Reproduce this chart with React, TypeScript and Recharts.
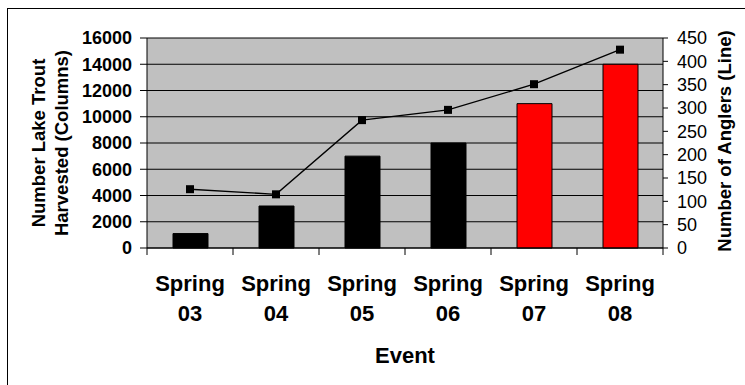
import React from 'react';
import {
  ComposedChart,
  Bar,
  Line,
  XAxis,
  YAxis,
  CartesianGrid,
  Cell,
} from 'recharts';

// Lake trout harvest (bars, left axis) and angler count (line, right axis)
const EVENTS = ['Spring 03', 'Spring 04', 'Spring 05', 'Spring 06', 'Spring 07', 'Spring 08'];
const TROUT_HARVESTED = [1100, 3200, 7000, 8000, 11000, 14000];
const ANGLERS = [126, 115, 274, 296, 351, 425];
const RED_EVENTS = ['Spring 07', 'Spring 08'];

const HARVEST_TICKS = [0, 2000, 4000, 6000, 8000, 10000, 12000, 14000, 16000];
const ANGLER_TICKS = [0, 50, 100, 150, 200, 250, 300, 350, 400, 450];

const FONT = '"Liberation Sans", Arial, sans-serif';

const data = EVENTS.map((event, i) => ({
  event,
  harvested: TROUT_HARVESTED[i],
  anglers: ANGLERS[i],
}));

// category label on two lines, with tick marks on the band edges
const EventTick = (props: any) => {
  const { x, y, payload, index } = props;
  const off = payload?.offset || 43;
  const [word, num] = String(payload.value).split(' ');
  return (
    <g>
      <line x1={x - off} x2={x - off} y1={y} y2={y + 7} stroke="#000" />
      {index === EVENTS.length - 1 && (
        <line x1={x + off} x2={x + off} y1={y} y2={y + 7} stroke="#000" />
      )}
      <text x={x} y={y + 43} textAnchor="middle" fontFamily={FONT} fontWeight={700} fontSize={22} fill="#000">
        {word}
      </text>
      <text x={x} y={y + 73} textAnchor="middle" fontFamily={FONT} fontWeight={700} fontSize={22} fill="#000">
        {num}
      </text>
    </g>
  );
};

const SquareDot = (props: any) => {
  const { cx, cy, index } = props;
  return <rect key={`dot-${index}`} x={cx - 4} y={cy - 4} width={8} height={8} fill="#000" />;
};

const LeftTitle = (props: any) => {
  const vb = props.viewBox || { x: 0, y: 38, width: 147, height: 210 };
  const cy = vb.y + vb.height / 2;
  return (
    <g fontFamily={FONT} fontWeight={700} fontSize={18.5} fill="#000">
      <text x={45} y={cy} textAnchor="middle" transform={`rotate(-90, 45, ${cy})`}>
        Number Lake Trout
      </text>
      <text x={68} y={cy} textAnchor="middle" transform={`rotate(-90, 68, ${cy})`}>
        Harvested (Columns)
      </text>
    </g>
  );
};

const RightTitle = (props: any) => {
  const vb = props.viewBox || { x: 663, y: 38, width: 82, height: 210 };
  const cy = vb.y + vb.height / 2 - 2;
  return (
    <text
      x={731}
      y={cy}
      textAnchor="middle"
      transform={`rotate(-90, 731, ${cy})`}
      fontFamily={FONT}
      fontWeight={700}
      fontSize={18.5}
      fill="#000"
    >
      Number of Anglers (Line)
    </text>
  );
};

const EventTitle = (props: any) => {
  const vb = props.viewBox || { x: 147, y: 248, width: 516, height: 137 };
  return (
    <text
      x={vb.x + vb.width / 2}
      y={vb.y + 115}
      textAnchor="middle"
      fontFamily={FONT}
      fontWeight={700}
      fontSize={22}
      fill="#000"
    >
      Event
    </text>
  );
};

export default function App() {
  return (
    <div style={{ position: 'absolute', left: 0, top: 0, width: 745, height: 385, overflow: 'hidden', background: '#fff' }}>
      <div
        style={{
          position: 'absolute',
          left: 7,
          top: 8,
          width: 800,
          height: 400,
          borderTop: '1px solid #000',
          borderLeft: '1px solid #000',
        }}
      />
      <div style={{ position: 'absolute', left: 0, top: 0 }}>
        <ComposedChart
          width={745}
          height={385}
          data={data}
          margin={{ top: 38, right: 0, bottom: 0, left: 0 }}
          barCategoryGap={0}
        >
          <CartesianGrid yAxisId="left" vertical={false} stroke="#000" fill="#C0C0C0" fillOpacity={1} />
          <XAxis
            dataKey="event"
            height={137}
            tickSize={0}
            tickMargin={0}
            tickLine={false}
            axisLine={{ stroke: '#000' }}
            tick={<EventTick />}
            interval={0}
            label={<EventTitle />}
          />
          <YAxis
            yAxisId="left"
            orientation="left"
            width={147}
            domain={[0, 16000]}
            ticks={HARVEST_TICKS}
            interval={0}
            tickSize={7}
            tickMargin={8}
            axisLine={{ stroke: '#000' }}
            tickLine={{ stroke: '#000' }}
            tick={{ fill: '#000', fontFamily: FONT, fontWeight: 700, fontSize: 18 }}
            label={<LeftTitle />}
          />
          <YAxis
            yAxisId="right"
            orientation="right"
            width={82}
            domain={[0, 450]}
            ticks={ANGLER_TICKS}
            interval={0}
            tickSize={5}
            tickMargin={9}
            axisLine={{ stroke: '#000' }}
            tickLine={{ stroke: '#000' }}
            tick={{ fill: '#000', fontFamily: FONT, fontSize: 18 }}
            label={<RightTitle />}
          />
          <Bar yAxisId="left" dataKey="harvested" barSize={35} stroke="#000" strokeWidth={1} isAnimationActive={false}>
            {data.map((d) => (
              <Cell key={d.event} fill={RED_EVENTS.includes(d.event) ? '#FF0000' : '#000'} />
            ))}
          </Bar>
          <Line
            yAxisId="right"
            dataKey="anglers"
            stroke="#000"
            strokeWidth={1.4}
            dot={<SquareDot />}
            activeDot={false}
            isAnimationActive={false}
          />
        </ComposedChart>
      </div>
    </div>
  );
}
